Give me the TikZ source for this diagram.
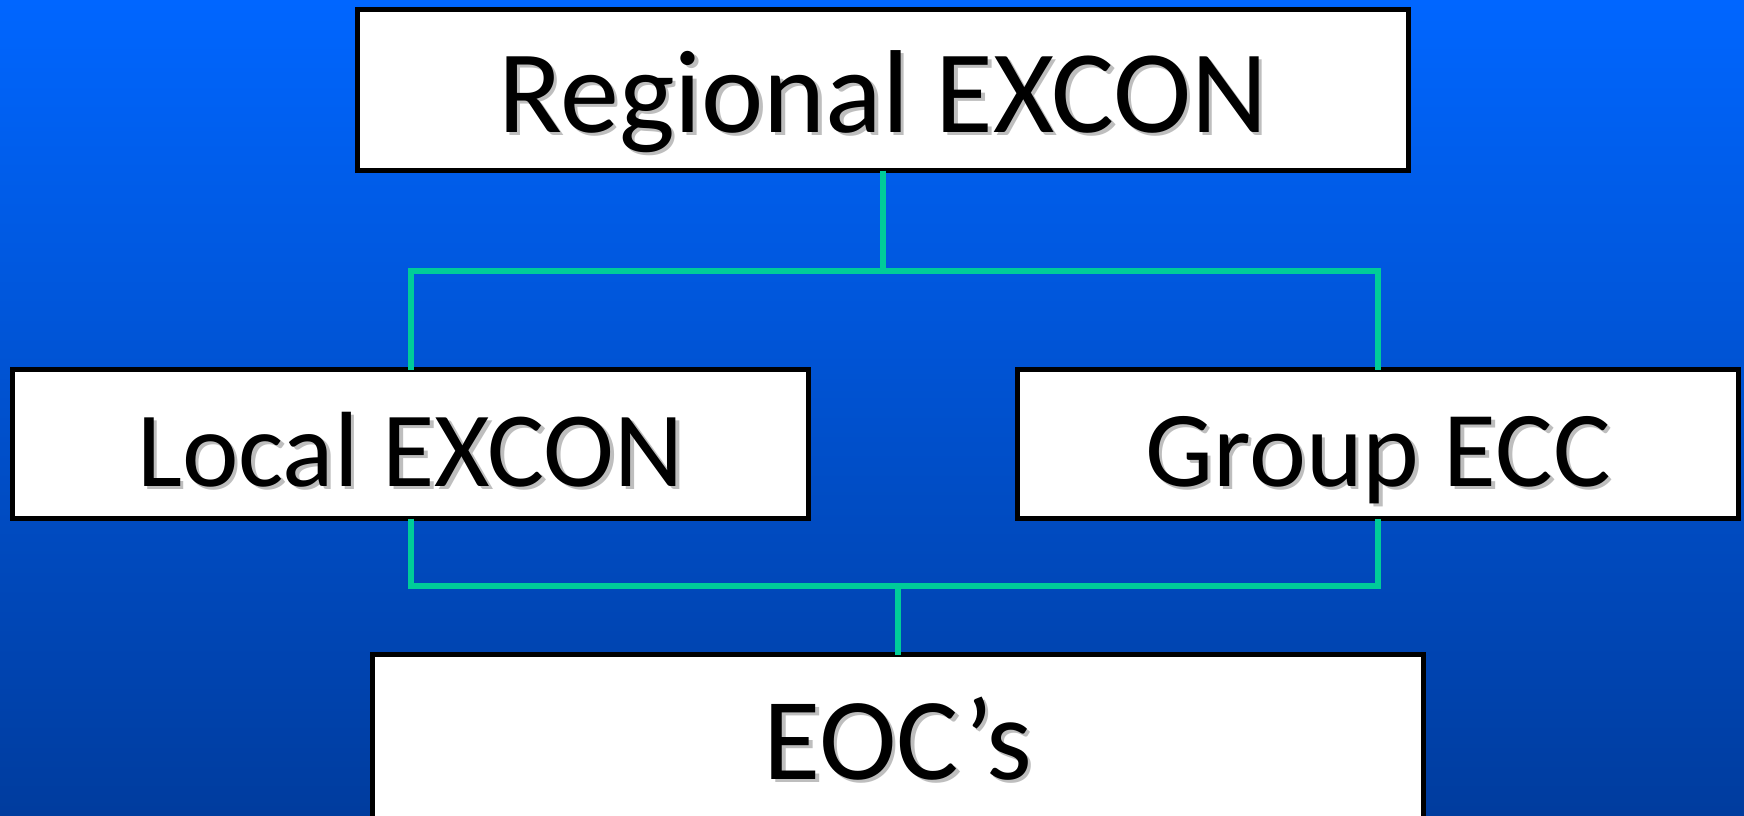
\documentclass[tikz,border=0pt]{standalone}
\usepackage{fontspec}
\setmainfont{Carlito}
\definecolor{skytop}{RGB}{0,102,255}
\definecolor{skybottom}{RGB}{0,60,158}
\definecolor{linkgreen}{RGB}{0,204,153}
\definecolor{shadowgrey}{RGB}{190,190,190}
\newcommand\shadowtext[1]{\makebox[0pt][l]{\hspace*{3.5pt}\raisebox{-3.5pt}{\color{shadowgrey}#1}}#1}

\begin{document}
\begin{tikzpicture}[x=1pt, y=-1pt,
    unitbox/.style={draw=black, line width=5.5pt, fill=white, inner sep=0pt, outer sep=0pt,
      text height=84pt, text depth=0pt, font=\fontsize{#1pt}{#1pt}\selectfont},
    link/.style={draw=linkgreen, line width=6pt}]
    % background
    \useasboundingbox (0,0) rectangle (1744,815);
    \shade[top color=skytop, bottom color=skybottom] (0,0) rectangle (1744,815);
    \clip (0,0) rectangle (1744,815);

    % boxes
    \node[unitbox=118, minimum width=1051pt, minimum height=161pt] (regional) at (883,90) {\shadowtext{Regional EXCON}};
    \node[unitbox=107, minimum width=796pt, minimum height=149pt] (local) at (410.5,444) {\shadowtext{Local EXCON}};
    \node[unitbox=108, minimum width=721pt, minimum height=149pt] (group) at (1378,444) {\shadowtext{Group ECC}};
    \node[unitbox=117, minimum width=1051pt, minimum height=165pt] (eocs) at (898,737) {\shadowtext{EOC’s}};

    % joints
    \coordinate (upper joint) at (883,270.5);
    \coordinate (lower joint) at (898,586);

    % links
    \draw[link] (regional.south) -- (upper joint);
    \draw[link] (local.north) |- (upper joint) -| (group.north);
    \draw[link] (local.south) |- (lower joint) -| (group.south);
    \draw[link] (lower joint) -- (eocs.north);
\end{tikzpicture}
\end{document}
